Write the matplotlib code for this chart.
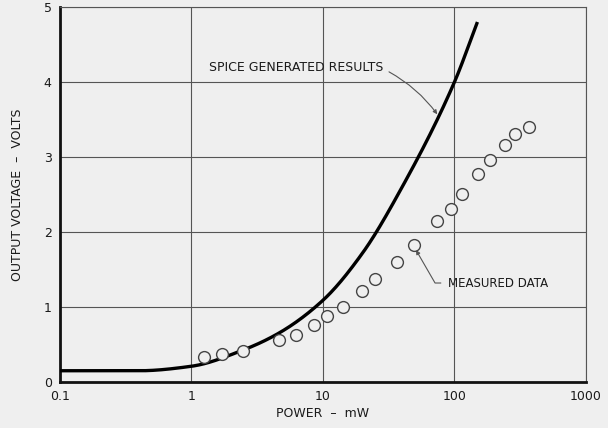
import matplotlib.pyplot as plt
import numpy as np

# SPICE simulated output voltage vs input power
spice_power = [0.1, 0.4, 1.0, 2.5, 4.6, 10, 20, 40, 100, 148]
spice_volts = [0.15, 0.15, 0.21, 0.43, 0.65, 1.09, 1.72, 2.6, 4.0, 4.78]

# measured points
meas_power = [1.24, 1.70, 2.48, 4.63, 6.23, 8.59, 10.8, 14.1, 19.9, 24.7,
              36.3, 49.5, 74, 94, 114, 150, 186, 242, 288, 369]
meas_volts = [0.33, 0.37, 0.41, 0.56, 0.62, 0.76, 0.88, 1.00, 1.22, 1.37,
              1.60, 1.83, 2.15, 2.31, 2.51, 2.77, 2.96, 3.16, 3.31, 3.40]

xticks = [0.1, 1, 10, 100, 1000]
xticklabels = ["0.1", "1", "10", "100", "1000"]
yticks = [0, 1, 2, 3, 4, 5]


def pchip(x, y, xs):
    # monotone cubic hermite interpolation (Fritsch-Carlson)
    x = np.asarray(x, float)
    y = np.asarray(y, float)
    h = np.diff(x)
    d = np.diff(y) / h
    m = np.zeros_like(y)
    m[0], m[-1] = d[0], d[-1]
    for k in range(1, len(x) - 1):
        if d[k - 1] * d[k] > 0:
            w1 = 2 * h[k] + h[k - 1]
            w2 = h[k] + 2 * h[k - 1]
            m[k] = (w1 + w2) / (w1 / d[k - 1] + w2 / d[k])
    idx = np.clip(np.searchsorted(x, xs) - 1, 0, len(x) - 2)
    t = (xs - x[idx]) / h[idx]
    h00 = 2 * t**3 - 3 * t**2 + 1
    h10 = t**3 - 2 * t**2 + t
    h01 = -2 * t**3 + 3 * t**2
    h11 = t**3 - t**2
    return h00 * y[idx] + h10 * h[idx] * m[idx] + h01 * y[idx + 1] + h11 * h[idx] * m[idx + 1]


bg = "#efefef"
ink = "#1a1a1a"
plt.rcParams["font.family"] = ["DejaVu Sans"]

fig = plt.figure(figsize=(6.08, 4.28), dpi=100, facecolor=bg)
ax = fig.add_axes([0.0987, 0.1075, 0.865, 0.876], facecolor=bg)

lx = np.log10(spice_power)
fine = np.linspace(lx[0], lx[-1], 400)
ax.plot(10 ** fine, pchip(lx, spice_volts, fine), color="black", linewidth=2.4, zorder=3)

ax.plot(meas_power, meas_volts, linestyle="none", marker="o", markersize=8.5,
        markerfacecolor=bg, markeredgecolor="#444444", markeredgewidth=1.0, zorder=4)

ax.set_xscale("log")
ax.set_xlim(0.1, 1000)
ax.set_ylim(0, 5)
ax.set_xticks(xticks)
ax.set_xticklabels(xticklabels)
ax.minorticks_off()
ax.set_yticks(yticks)
ax.tick_params(length=0, labelsize=9, colors=ink, pad=6)

ax.grid(True, color="#555555", linewidth=0.8)
for side in ["left", "bottom"]:
    ax.spines[side].set_linewidth(2)
    ax.spines[side].set_color("#111111")
for side in ["top", "right"]:
    ax.spines[side].set_linewidth(0.8)
    ax.spines[side].set_color("#555555")

ax.set_xlabel("POWER  –  mW", fontsize=9, color=ink, labelpad=3)
ax.set_ylabel("OUTPUT VOLTAGE  –  VOLTS", fontsize=9, color=ink, labelpad=14)

ax.annotate("SPICE GENERATED RESULTS", xy=(74, 3.57), xytext=(6.3, 4.19),
            fontsize=9, ha="center", va="center", color=ink,
            arrowprops=dict(arrowstyle="-|>", color="#555555", linewidth=0.8,
                            shrinkA=2, shrinkB=0, mutation_scale=6, relpos=(1, 0.4),
                            connectionstyle="arc3,rad=-0.12"))
ax.annotate("MEASURED DATA", xy=(51, 1.76), xytext=(89, 1.32),
            fontsize=8.5, ha="left", va="center", color=ink,
            arrowprops=dict(arrowstyle="-|>", color="#555555", linewidth=0.8,
                            shrinkA=3, shrinkB=0, mutation_scale=6, relpos=(0, 0.5),
                            connectionstyle="angle,angleA=180,angleB=-60,rad=0"))

fig.savefig("out.png", dpi=100, facecolor=bg)
